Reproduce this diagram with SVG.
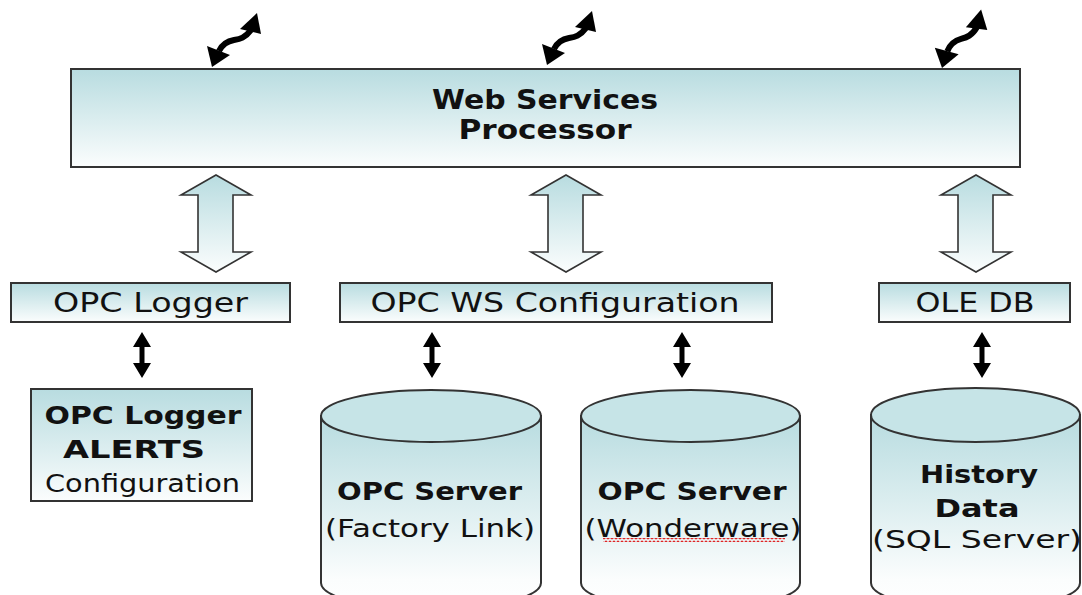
<svg xmlns="http://www.w3.org/2000/svg" width="1082" height="595" viewBox="0 0 1082 595">
<defs>
<linearGradient id="gBox" x1="0" y1="0" x2="0" y2="1">
<stop offset="0" stop-color="#b8dce0"/>
<stop offset="1" stop-color="#fbfdfd"/>
</linearGradient>
<linearGradient id="gCyl" x1="0" y1="0" x2="0" y2="1">
<stop offset="0" stop-color="#b8dce0"/>
<stop offset="0.85" stop-color="#fbfdfd"/>
<stop offset="1" stop-color="#ffffff"/>
</linearGradient>
<pattern id="wavy" x="0" y="0" width="4" height="4" patternUnits="userSpaceOnUse">
<path d="M0,3 L2,1 L4,3" stroke="#e02020" stroke-width="1.2" fill="none"/>
</pattern>
<g id="zig">
<polygon points="0,0 -5,-21 18,-12" fill="#000"/>
<polygon points="45,-54 28,-38 49,-33" fill="#000"/>
<path d="M7,-16 C10,-22 16,-26 22,-27 S33,-29 39,-37" fill="none" stroke="#000" stroke-width="6"/>
</g>
<polygon id="dbl" points="0,0 9,15 2.5,15 2.5,31 9,31 0,46 -9,31 -2.5,31 -2.5,15 -9,15" fill="#000"/>
</defs>
<style>
.box{fill:url(#gBox);stroke:#333;stroke-width:2}
.hol{fill:url(#gBox);stroke:#333;stroke-width:1.6;stroke-linejoin:miter}
.cyl{fill:url(#gCyl);stroke:#333;stroke-width:2}
.top{fill:#c6e4e7;stroke:#333;stroke-width:2}
text{font-family:"DejaVu Sans","Verdana",sans-serif;fill:#111;text-anchor:middle}
.b{font-weight:bold}
</style>
<rect width="1082" height="595" fill="#fff"/>

<g id="wsp">
<rect class="box" x="71" y="69" width="949" height="98"/>
<text class="b" x="545" y="109" font-size="26" textLength="226" lengthAdjust="spacingAndGlyphs">Web Services</text>
<text class="b" x="545" y="139" font-size="26" textLength="173" lengthAdjust="spacingAndGlyphs">Processor</text>
</g>

<g id="opclogger">
<rect class="box" x="11" y="283" width="279" height="39"/>
<text x="150.5" y="312" font-size="26" textLength="195" lengthAdjust="spacingAndGlyphs">OPC Logger</text>
</g>

<g id="opcws">
<rect class="box" x="340" y="283" width="432" height="39"/>
<text x="555" y="312" font-size="26" textLength="369" lengthAdjust="spacingAndGlyphs">OPC WS Configuration</text>
</g>

<g id="oledb">
<rect class="box" x="879" y="283" width="191" height="39"/>
<text x="975" y="312" font-size="26" textLength="119" lengthAdjust="spacingAndGlyphs">OLE DB</text>
</g>

<g id="alerts">
<rect class="box" x="31" y="389" width="221" height="112"/>
<text class="b" x="143" y="424" font-size="24" textLength="197" lengthAdjust="spacingAndGlyphs">OPC Logger</text>
<text class="b" x="134" y="458" font-size="24" textLength="142" lengthAdjust="spacingAndGlyphs">ALERTS</text>
<text x="142.5" y="492" font-size="24" textLength="195" lengthAdjust="spacingAndGlyphs">Configuration</text>
</g>

<g id="factorylink">
<path class="cyl" d="M321,416 L321,583 A110,26 0 0 0 541,583 L541,416 Z"/>
<ellipse class="top" cx="431" cy="416" rx="110" ry="26"/>
<text class="b" x="429.5" y="500" font-size="25" textLength="185" lengthAdjust="spacingAndGlyphs">OPC Server</text>
<text x="430" y="537" font-size="25" textLength="210" lengthAdjust="spacingAndGlyphs">(Factory Link)</text>
</g>

<g id="wonderware">
<path class="cyl" d="M581,416 L581,583 A109.5,26 0 0 0 800,583 L800,416 Z"/>
<ellipse class="top" cx="690.5" cy="416" rx="109.5" ry="26"/>
<text class="b" x="692" y="500" font-size="25" textLength="189" lengthAdjust="spacingAndGlyphs">OPC Server</text>
<text x="693" y="537" font-size="25" textLength="217" lengthAdjust="spacingAndGlyphs">(Wonderware)</text>
<rect x="603" y="538" width="182" height="4" fill="url(#wavy)"/>
</g>

<g id="history">
<path class="cyl" d="M871,415 L871,583 A104.5,26 0 0 0 1080,583 L1080,415 Z"/>
<ellipse class="top" cx="975.5" cy="415" rx="104.5" ry="27"/>
<text class="b" x="979" y="483" font-size="25" textLength="118" lengthAdjust="spacingAndGlyphs">History</text>
<text class="b" x="977" y="517" font-size="25" textLength="85" lengthAdjust="spacingAndGlyphs">Data</text>
<text x="977" y="548" font-size="25" textLength="210" lengthAdjust="spacingAndGlyphs">(SQL Server)</text>
</g>

<g id="connectors">
<use href="#zig" transform="translate(212,67)"/>
<use href="#zig" transform="translate(547,65)"/>
<use href="#zig" transform="translate(942,68) rotate(-6)"/>
<polygon class="hol" points="216,175 251,195 233,195 233,252 251,252 216,272 181,252 198,252 198,195 181,195"/>
<polygon class="hol" points="566,175 601,195 583,195 583,252 601,252 566,272 531,252 548,252 548,195 531,195"/>
<polygon class="hol" points="976,175 1011,195 993,195 993,252 1011,252 976,272 941,252 958,252 958,195 941,195"/>
<use href="#dbl" transform="translate(142,332)"/>
<use href="#dbl" transform="translate(432,332)"/>
<use href="#dbl" transform="translate(682,332)"/>
<use href="#dbl" transform="translate(982,332)"/>
</g>
</svg>
